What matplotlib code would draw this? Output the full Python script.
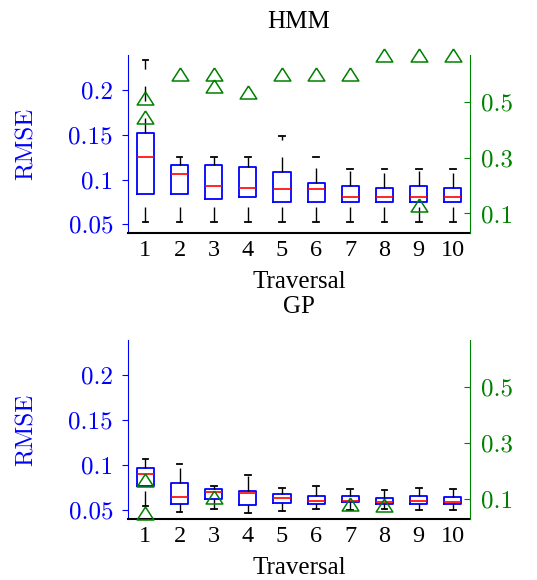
import numpy as np
import matplotlib.pyplot as plt

plt.rcParams['font.family'] = 'cmr10'
plt.rcParams['mathtext.fontset'] = 'cm'
plt.rcParams['axes.formatter.use_mathtext'] = True
times = 'Liberation Serif'

traversal = list(range(1, 11))

# HMM boxes (RMSE, left axis)
hmm_whislo = [0.053] * 10
hmm_q1 = [0.0838, 0.0835, 0.0786, 0.080, 0.0752, 0.0752, 0.0745, 0.0745, 0.0745, 0.0745]
hmm_med = [0.1255, 0.106, 0.0927, 0.0905, 0.0897, 0.090, 0.0805, 0.0805, 0.0805, 0.0805]
hmm_q3 = [0.152, 0.1165, 0.1165, 0.1143, 0.1084, 0.096, 0.0931, 0.0909, 0.0931, 0.0909]
hmm_whishi = [0.2334, 0.1255, 0.1255, 0.1255, 0.1485, 0.1255, 0.1117, 0.1117, 0.1117, 0.1117]

# GP boxes
gp_whislo = [0.0544, 0.0478, 0.0511, 0.0467, 0.0489, 0.0511, 0.050, 0.0511, 0.0503, 0.0503]
gp_q1 = [0.0767, 0.057, 0.0626, 0.0563, 0.0585, 0.0574, 0.0589, 0.057, 0.0567, 0.057]
gp_med = [0.0907, 0.0652, 0.070, 0.0693, 0.0641, 0.0608, 0.060, 0.0589, 0.0608, 0.0592]
gp_q3 = [0.097, 0.080, 0.0737, 0.0715, 0.0685, 0.0663, 0.0656, 0.0637, 0.0659, 0.0644]
gp_whishi = [0.1074, 0.1015, 0.077, 0.0893, 0.0752, 0.0774, 0.0737, 0.073, 0.0748, 0.0737]

# triangles (right axis)
hmm_tri_x = [1, 1, 2, 3, 3, 4, 5, 6, 7, 8, 9, 9, 10]
hmm_tri_y = [0.514, 0.444, 0.598, 0.598, 0.557, 0.533, 0.598, 0.598, 0.598, 0.667, 0.667, 0.132, 0.667]
gp_tri_x = [1, 1, 3, 7, 8]
gp_tri_y = [0.170, 0.052, 0.109, 0.083, 0.081]

left_ticks = [0.05, 0.1, 0.15, 0.2]
left_labels = ['0.05', '0.1', '0.15', '0.2']
right_ticks = [0.1, 0.3, 0.5]
right_labels = ['0.1', '0.3', '0.5']

tri = [(0, 0.78), (-1, -0.78), (1, -0.78), (0, 0.78)]


def panel(ax, whislo, q1, med, q3, whishi, tx, ty, title):
    stats = []
    for i in range(len(traversal)):
        stats.append(dict(whislo=whislo[i], q1=q1[i], med=med[i], q3=q3[i],
                          whishi=whishi[i], fliers=[]))
    bp = ax.bxp(stats, positions=traversal, widths=0.5, capwidths=0.17,
                boxprops=dict(color='blue', linewidth=1.3),
                medianprops=dict(color='red', linewidth=1.2),
                whiskerprops=dict(color='black', linewidth=1.0,
                                  linestyle=(0, (10.8, 12.2))),
                capprops=dict(color='black', linewidth=1.3))
    # lower whiskers: dash pattern starts at the cap end
    for w in bp['whiskers'][::2]:
        w.set_ydata(w.get_ydata()[::-1])
    ax.set_xlim(0.5, 10.5)
    ax.set_ylim(0.04, 0.239)
    ax.set_yticks(left_ticks)
    ax.set_yticklabels(left_labels)
    ax.set_xticks(traversal)
    ax.set_xticklabels([str(t) for t in traversal], family=times)
    ax.tick_params(axis='y', colors='blue', direction='out', length=4, pad=7, labelsize=18)
    ax.tick_params(axis='x', length=0, pad=5, labelsize=17.5)
    ax.spines['top'].set_visible(False)
    ax.spines['right'].set_visible(False)
    ax.spines['left'].set_color('blue')
    ax.spines['bottom'].set_linewidth(1.5)
    ax.set_ylabel('RMSE', color='blue', fontsize=18)
    ax.yaxis.set_label_coords(-0.264, 0.5)
    ax.set_xlabel('Traversal', fontsize=18, va='top', family=times)
    ax.xaxis.set_label_coords(0.5, -0.21)
    ax.set_title(title, fontsize=18, y=1.15, pad=0, family=times)

    ax2 = ax.twinx()
    ax2.plot(tx, ty, linestyle='none', marker=tri, markersize=12,
             markerfacecolor='none', markeredgecolor='green', markeredgewidth=1.1,
             clip_on=False)
    ax2.set_ylim(0.029, 0.667)
    ax2.set_yticks(right_ticks)
    ax2.set_yticklabels(right_labels)
    ax2.tick_params(axis='y', colors='green', direction='in', length=4, pad=8, labelsize=18)
    for s in ['top', 'left', 'bottom']:
        ax2.spines[s].set_visible(False)
    ax2.spines['right'].set_color('green')


fig = plt.figure(figsize=(5.37, 5.80), dpi=100)
ax_top = fig.add_axes([0.239, 0.5977, 0.636, 0.3075])
ax_bot = fig.add_axes([0.239, 0.1047, 0.636, 0.3091])

panel(ax_top, hmm_whislo, hmm_q1, hmm_med, hmm_q3, hmm_whishi, hmm_tri_x, hmm_tri_y, 'HMM')
panel(ax_bot, gp_whislo, gp_q1, gp_med, gp_q3, gp_whishi, gp_tri_x, gp_tri_y, 'GP')

fig.savefig('out.png', dpi=100)
